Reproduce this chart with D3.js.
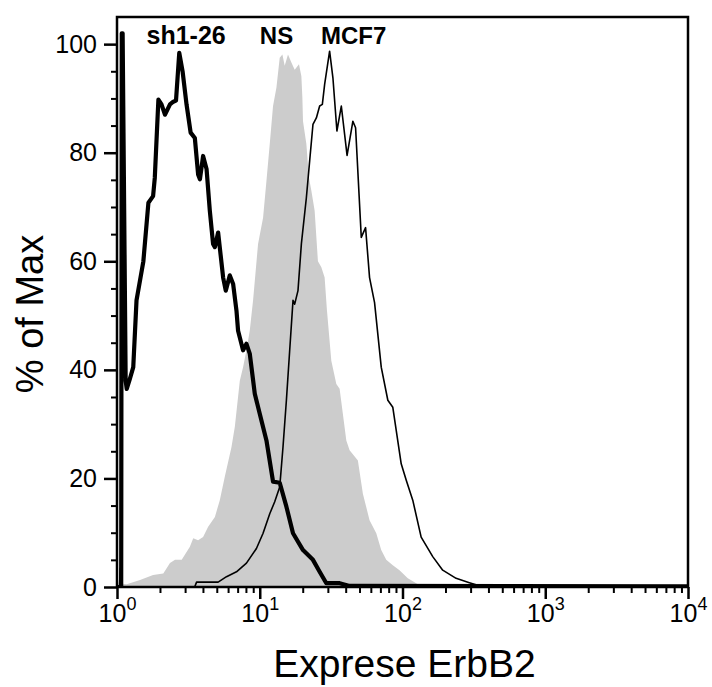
<!DOCTYPE html>
<html>
<head>
<meta charset="utf-8">
<script src="https://cdn.jsdelivr.net/npm/d3@7"></script>
<style>
  html, body { margin: 0; padding: 0; background: #fff; }
  svg { display: block; font-family: "Liberation Sans", Arial, Helvetica, sans-serif; }
</style>
</head>
<body>
<svg id="chart" width="712" height="687"></svg>
<script>
// ---------- data (x = fluorescence intensity, y = % of max) ----------
const seriesNames = ["sh1-26", "NS", "MCF7"];

const nsData = [
  [1.0,0],[1.045,0],[1.06,4],[1.08,0.6],[1.17,0.5],[1.45,1.3],[1.79,2.2],[2.11,2.5],
  [2.35,4.4],[2.55,5],[2.84,5],[3.24,7.4],[3.42,9],[3.70,8.6],[4.01,9.2],[4.35,11.1],
  [4.85,12.9],[5.25,16],[5.69,20.3],[6.34,25.8],[6.69,29.5],[7.25,38],[7.64,40.5],
  [8.07,43.6],[8.51,47.2],[8.98,52.8],[9.73,63.2],[10.55,68],[11.14,74.8],[11.75,81.6],
  [12.39,88.6],[13.09,92],[13.8,97.5],[14.41,98.1],[14.96,96],[15.77,98.1],[16.66,96.6],
  [17.57,95.3],[18.83,96.3],[19.57,94.1],[19.89,90.1],[20.09,85.8],[21.21,81.6],
  [22.12,75.4],[22.99,73],[24.24,69.3],[25.56,60],[27.01,58.9],[28.48,57],[29.56,51],
  [31.72,41.7],[34.39,37.4],[36.26,36.5],[40.4,27],[42.6,25.2],[48.69,23.3],[52.78,17.2],
  [58.78,12.3],[65.5,9.9],[70.96,6.8],[76.91,5],[85.53,4],[95.28,3.1],[108.9,1.6],
  [124.7,0.7],[131.5,0.3],[150,0],[10000,0]
];

const mcf7Data = [
  [1.0,0],[1.04,0],[1.055,3.5],[1.075,0],[3.5,0],[3.61,0.9],[5.11,0.9],[5.85,1.9],
  [6.87,2.8],[8.07,4.4],[9.48,7.1],[10.55,9.9],[11.75,13.5],[12.73,15.7],[13.8,18.4],
  [14.55,25.8],[15.37,34.4],[16.21,43.6],[17.1,52.8],[17.57,52.1],[18.53,54.6],
  [19.57,63.2],[21.21,71.7],[22.37,78.5],[23.59,85.2],[24.92,86.4],[26.28,88.6],
  [27.45,88.9],[28.48,92.6],[30.86,98.7],[32.55,93.8],[34.72,84],[37.27,88.6],
  [40.9,79.5],[44.92,85.8],[46.92,84.6],[51.43,64.4],[55.12,66.2],[58.78,57],
  [63.72,52.4],[70.96,40.5],[78.93,34.4],[85.53,33.1],[97.93,22.7],[106.1,19.7],
  [118,16],[135.1,9.2],[162.9,5.6],[191.3,3.1],[237.4,1.6],[294.1,0.8],[327.6,0.4],
  [476.8,0.2],[10000,0.1]
];

const sh126Data = [
  [1.0,0],[1.07,0],[1.08,102],[1.095,102],[1.15,38],[1.17,36.5],[1.22,38],[1.30,40.5],
  [1.37,52.8],[1.53,60],[1.66,70.8],[1.79,72],[1.84,75.4],[1.95,89.8],[2.05,88.9],
  [2.17,87],[2.35,88.9],[2.48,89.4],[2.59,89.6],[2.73,98.4],[2.88,95],[3.07,88.9],
  [3.28,83.7],[3.51,82.7],[3.70,76],[3.81,75.1],[4.01,79.4],[4.24,77],[4.47,69.3],
  [4.71,63.2],[4.85,62.6],[5.11,65.3],[5.54,57],[5.78,54.6],[6.17,57.4],[6.51,55.8],
  [6.87,50.9],[7.05,47.2],[7.64,43.6],[8.07,44.8],[8.51,43],[9.23,35.6],[10,31.9],
  [11.14,27],[12.39,19.4],[13.8,19.2],[15.37,14.8],[17.1,9.9],[20.09,6.8],[23.59,5],
  [26.28,2.8],[29.27,0.7],[36.26,0.7],[42.6,0.2],[10000,0.1]
];

const xMajorTicks = [1, 10, 100, 1000, 10000];
const xTickExponents = ["0", "1", "2", "3", "4"];
const yMajorTicks = [0, 20, 40, 60, 80, 100];
const yMinorTicks = [5,10,15,25,30,35,45,50,55,65,70,75,85,90,95];
const xMinorTicks = [];
[1, 10, 100, 1000].forEach(d => { for (let k = 2; k <= 9; k++) xMinorTicks.push(d * k); });

const xTitle = "Exprese ErbB2";
const yTitle = "% of Max";

// ---------- layout ----------
const svg = d3.select("#chart");
const L = 117, R = 688, T = 17, B = 587;

const x = d3.scaleLog().domain([1, 10000]).range([L, R]);
const y = d3.scaleLinear().domain([0, 105]).range([B, T]);

const clipId = "plotclip";
svg.append("defs").append("clipPath").attr("id", clipId)
  .append("rect").attr("x", L).attr("y", T).attr("width", R - L).attr("height", B - T);

const plot = svg.append("g").attr("clip-path", `url(#${clipId})`);

// NS filled histogram
const area = d3.area().x(d => x(d[0])).y0(y(0)).y1(d => y(d[1])).curve(d3.curveLinear);
plot.append("path").datum(nsData).attr("d", area).attr("fill", "#cccccc").attr("stroke", "none");

const line = d3.line().x(d => x(d[0])).y(d => y(d[1])).curve(d3.curveLinear);
plot.append("path").datum(mcf7Data).attr("d", line)
  .attr("fill", "none").attr("stroke", "#000").attr("stroke-width", 1.6).attr("stroke-linejoin", "round");
plot.append("path").datum(sh126Data).attr("d", line)
  .attr("fill", "none").attr("stroke", "#000").attr("stroke-width", 4.2).attr("stroke-linejoin", "round");

// frame
svg.append("rect").attr("x", L).attr("y", T).attr("width", R - L).attr("height", B - T)
  .attr("fill", "none").attr("stroke", "#000").attr("stroke-width", 2.5);

// x axis (minor + major)
const xMinorAxis = d3.axisBottom(x).tickValues(xMinorTicks).tickSize(6).tickFormat("");
svg.append("g").attr("transform", `translate(0,${B})`).call(xMinorAxis)
  .call(g => g.select(".domain").remove())
  .selectAll("line").attr("stroke-width", 2);

const xMajorAxis = d3.axisBottom(x).tickValues(xMajorTicks).tickSize(12).tickFormat("");
const gx = svg.append("g").attr("transform", `translate(0,${B})`).call(xMajorAxis);
gx.select(".domain").remove();
gx.selectAll("line").attr("stroke-width", 2.5);
gx.selectAll(".tick").each(function(d, i) {
  const t = d3.select(this).append("text")
    .attr("y", 35).attr("fill", "#000").attr("text-anchor", "middle")
    .style("font-size", "25px");
  t.append("tspan").text("10");
  t.append("tspan").attr("dy", -12).style("font-size", "18px").text(xTickExponents[i]);
});

// y axis (minor + major)
const yMinorAxis = d3.axisLeft(y).tickValues(yMinorTicks).tickSize(6).tickFormat("");
svg.append("g").attr("transform", `translate(${L},0)`).call(yMinorAxis)
  .call(g => g.select(".domain").remove())
  .selectAll("line").attr("stroke-width", 2);

const yMajorAxis = d3.axisLeft(y).tickValues(yMajorTicks).tickSize(13).tickPadding(7).tickFormat(d3.format("d"));
const gy = svg.append("g").attr("transform", `translate(${L},0)`).call(yMajorAxis);
gy.select(".domain").remove();
gy.selectAll("line").attr("stroke-width", 2.5);
gy.selectAll("text").attr("fill", "#000").style("font-size", "25px")
  .attr("font-family", "'Liberation Sans', Arial, sans-serif");

// axis titles
svg.append("text").attr("x", (L + R) / 2 + 2).attr("y", 677).attr("text-anchor", "middle")
  .style("font-size", "39px").text(xTitle);
svg.append("text").attr("transform", "translate(43,314) rotate(-90)").attr("text-anchor", "middle")
  .style("font-size", "38px").text(yTitle);

// curve labels (anchored in data space)
const labelAnchors = [3.05, 13.1, 45.5];
svg.selectAll(".clabel").data(seriesNames).join("text").attr("class", "clabel")
  .attr("x", (d, i) => x(labelAnchors[i])).attr("y", 44).attr("text-anchor", "middle")
  .style("font-size", (d, i) => i === 0 ? "25px" : "24px").style("font-weight", "bold").text(d => d);
</script>
</body>
</html>
